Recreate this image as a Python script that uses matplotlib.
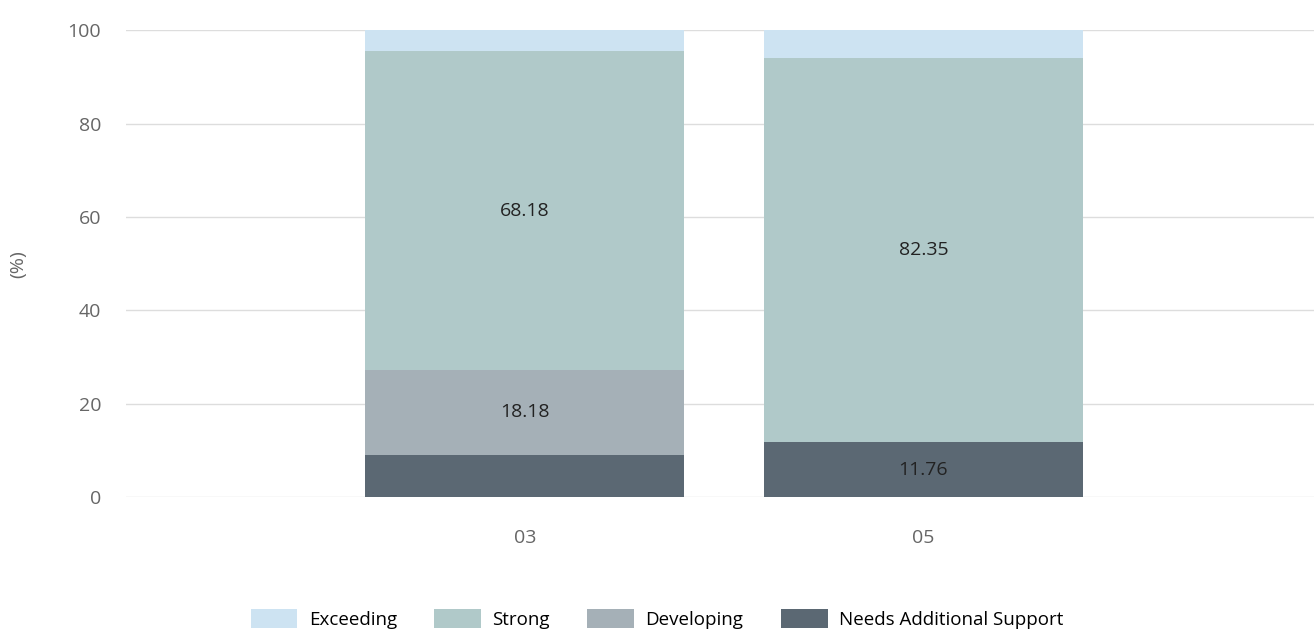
import numpy as np
import matplotlib.pyplot as plt

plt.rcParams['font.family'] = ['Open Sans', 'DejaVu Sans']

# data
categories = ['03', '05']
series_names = ['Needs Additional Support', 'Developing', 'Strong', 'Exceeding']
needs = [9.09, 11.76]
developing = [18.18, 0.0]
strong = [68.18, 82.35]
exceeding = [4.55, 5.88]
colors = ['#5b6873', '#a5b0b7', '#b0c9c9', '#cde3f2']

values = [needs, developing, strong, exceeding]

fig = plt.figure(figsize=(13.14, 6.3), dpi=100)
ax = fig.add_axes([0.096, 0.211, 0.904, 0.741])

x = np.arange(len(categories))
bottom = np.zeros(len(categories))
handles = []
for name, vals, c in zip(series_names, values, colors):
    vals = np.array(vals)
    b = ax.bar(x, vals, 0.8, bottom=bottom, color=c, label=name, zorder=2)
    handles.append(b)
    for xi, v, bt in zip(x, vals, bottom):
        if v >= 10:
            ax.text(xi, bt + v / 2, f'{v:.2f}', ha='center', va='center',
                    fontsize=14, color='#222222', zorder=3)
    bottom += vals

ax.set_xlim(-1.0, 1.98)
ax.set_ylim(0, 100)
ax.set_yticks([0, 20, 40, 60, 80, 100])
ax.set_xticks(x)
ax.set_xticklabels(categories)
ax.grid(axis='y', color='#dddddd', linewidth=1, zorder=0)
for s in ax.spines.values():
    s.set_visible(False)
ax.tick_params(axis='both', length=0, labelsize=14, colors='#666666')
ax.tick_params(axis='x', pad=23)
ax.tick_params(axis='y', pad=18)
ax.set_ylabel('(%)', fontsize=14, color='#666666')
ax.yaxis.set_label_coords(-0.083, 0.5)

fig.legend(handles[::-1], series_names[::-1], loc='lower center', ncol=4,
           bbox_to_anchor=(0.5, -0.025), frameon=False, fontsize=13.5,
           handlelength=2.5, handleheight=1.2, columnspacing=2.0, handletextpad=0.6)

fig.savefig('out.png', dpi=100)
